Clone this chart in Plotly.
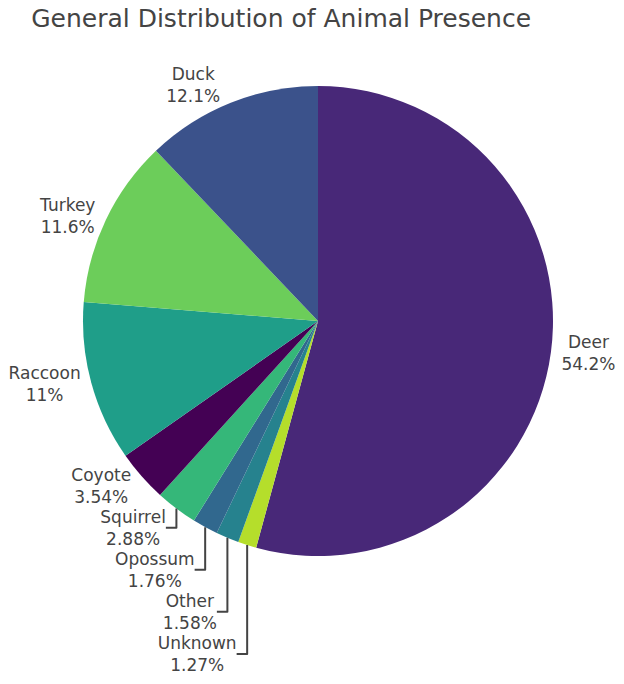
import plotly.graph_objects as go

labels = ["Deer", "Unknown", "Other", "Opossum", "Squirrel", "Coyote", "Raccoon", "Turkey", "Duck"]
values = [54.2, 1.27, 1.58, 1.76, 2.88, 3.54, 11.0, 11.6, 12.1]
colors = ["#482878", "#b5de2b", "#26828e", "#31688e", "#35b779", "#440154", "#1f9e89", "#6ccd5a", "#3b528b"]

fig = go.Figure(go.Pie(
    labels=labels, values=values, sort=False, direction="clockwise",
    marker=dict(colors=colors, line=dict(width=0)),
    textinfo="label+percent", textposition="outside",
    textfont=dict(family="DejaVu Sans", size=17, color="#444"),
    showlegend=False,
))
fig.update_layout(
    width=624, height=684,
    title=dict(text="General Distribution of Animal Presence", x=0.05,
               y=0.974, yref="container", yanchor="middle",
               font=dict(family="DejaVu Sans", size=25, color="#444")),
    margin=dict(t=82, b=38, l=26, r=10),
    paper_bgcolor="white",
)
fig.write_html("out.html")
